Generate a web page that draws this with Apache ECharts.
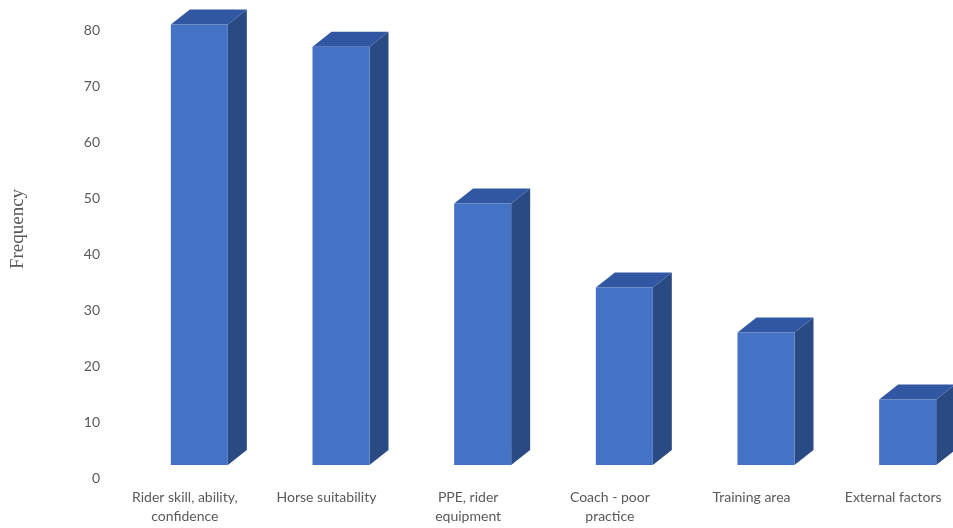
<!DOCTYPE html>
<html>
<head>
<meta charset="utf-8">
<script src="https://cdn.jsdelivr.net/npm/echarts@6/dist/echarts.min.js"></script>
<style>
html,body{margin:0;padding:0;background:#fff;}
#chart{width:953px;height:528px;}
</style>
</head>
<body>
<div id="chart"></div>
<script>
const categories = ['Rider skill, ability,\nconfidence', 'Horse suitability', 'PPE, rider\nequipment', 'Coach - poor\npractice', 'Training area', 'External factors'];
const frequency = [81, 77, 49, 34, 26, 14];
const yTicks = [0, 10, 20, 30, 40, 50, 60, 70, 80];
const yTitle = 'Frequency';

const FRONT = '#4472C4', SIDE = '#2A4A84', TOPC = '#3257A2';
const chart = echarts.init(document.getElementById('chart'));
chart.setOption({
  backgroundColor: '#ffffff',
  animation: false,
  grid: {left: 114, top: 30, width: 850, height: 448, containLabel: false, outerBoundsMode: 'none'},
  graphic: [{
    type: 'text', x: 18, y: 229, rotation: Math.PI / 2,
    style: {text: yTitle, fill: '#595959', font: '19px "Liberation Serif"', align: 'center', verticalAlign: 'middle'}
  }],
  xAxis: {
    type: 'category', data: categories,
    axisLine: {show: false}, axisTick: {show: false}, splitLine: {show: false},
    axisLabel: {color: '#595959', fontFamily: 'Lato', fontSize: 14, margin: 10, lineHeight: 19, interval: 0}
  },
  yAxis: {
    type: 'value', min: yTicks[0], max: yTicks[yTicks.length - 1], interval: 10,
    axisLine: {show: false}, axisTick: {show: false}, splitLine: {show: false},
    axisLabel: {color: '#595959', fontFamily: 'Lato', fontSize: 14, margin: 14}
  },
  series: [{
    type: 'custom',
    data: frequency.map((v, i) => [i, v]),
    renderItem: function (params, api) {
      const i = api.value(0), v = api.value(1);
      const top = api.coord([i, v]);
      const base = api.coord([i, 0]);
      const w = 57, dx = 19, dy = 15, floor = 13;
      const cx = top[0] + 14.5;
      const x0 = cx - w / 2, x1 = cx + w / 2;
      const yT = top[1], yB = base[1] - floor;
      return {
        type: 'group',
        children: [
          {type: 'polygon', shape: {points: [[x1, yT], [x1 + dx, yT - dy], [x1 + dx, yB - dy], [x1, yB]]}, style: {fill: SIDE}},
          {type: 'polygon', shape: {points: [[x0, yT], [x0 + dx, yT - dy], [x1 + dx, yT - dy], [x1, yT]]}, style: {fill: TOPC}},
          {type: 'rect', shape: {x: x0, y: yT, width: w, height: yB - yT}, style: {fill: FRONT}}
        ]
      };
    }
  }]
});
</script>
</body>
</html>
